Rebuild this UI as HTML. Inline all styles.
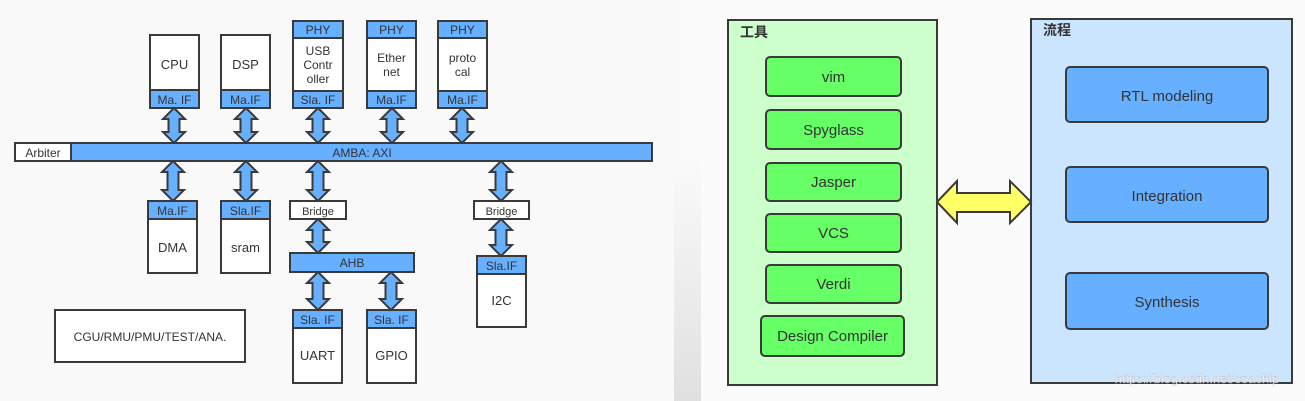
<!DOCTYPE html>
<html><head><meta charset="utf-8"><style>
html,body{margin:0;padding:0;background:#f9f9f9;}
svg{display:block}
text{font-family:"Liberation Sans","Noto Sans CJK SC",sans-serif;fill:#333;}
</style></head><body>
<svg width="1305" height="401" viewBox="0 0 1305 401" xmlns="http://www.w3.org/2000/svg">
<defs>
<linearGradient id="g" x1="0" y1="0" x2="0" y2="1">
<stop offset="0" stop-color="#fafafa"/><stop offset="0.4" stop-color="#fafafa"/><stop offset="1" stop-color="#e0e0e0"/></linearGradient>
</defs>
<rect x="0" y="0" width="1305" height="401" fill="#f9f9f9"/>
<rect x="674" y="0" width="27" height="401" fill="url(#g)"/>
<rect x="701" y="0" width="604" height="401" fill="#fbfbfb"/>

<g stroke="#3a3a3a" stroke-width="2">
<rect x="150" y="35" width="49" height="73" fill="#fff"/><rect x="150" y="90" width="49" height="18" fill="#66b0ff"/>
<rect x="221" y="35" width="49" height="73" fill="#fff"/><rect x="221" y="90" width="49" height="18" fill="#66b0ff"/>
<rect x="293" y="21" width="50" height="87" fill="#fff"/><rect x="293" y="21" width="50" height="17" fill="#66b0ff"/><rect x="293" y="91" width="50" height="17" fill="#66b0ff"/>
<rect x="367" y="21" width="49" height="87" fill="#fff"/><rect x="367" y="21" width="49" height="17" fill="#66b0ff"/><rect x="367" y="91" width="49" height="17" fill="#66b0ff"/>
<rect x="438" y="21" width="49" height="87" fill="#fff"/><rect x="438" y="21" width="49" height="17" fill="#66b0ff"/><rect x="438" y="91" width="49" height="17" fill="#66b0ff"/>
<rect x="15" y="143" width="56" height="18" fill="#fff"/>
<rect x="71" y="143" width="581" height="18" fill="#66b0ff"/>
<rect x="148" y="201" width="49" height="72" fill="#fff"/><rect x="148" y="201" width="49" height="18" fill="#66b0ff"/>
<rect x="221" y="201" width="49" height="72" fill="#fff"/><rect x="221" y="201" width="49" height="18" fill="#66b0ff"/>
<rect x="290" y="201" width="56" height="18" fill="#fff"/>
<rect x="474" y="201" width="55" height="18" fill="#fff"/>
<rect x="290" y="253" width="124" height="19" fill="#66b0ff"/>
<rect x="477" y="256" width="49" height="71" fill="#fff"/><rect x="477" y="256" width="49" height="18" fill="#66b0ff"/>
<rect x="293" y="310" width="49" height="73" fill="#fff"/><rect x="293" y="310" width="49" height="18" fill="#66b0ff"/>
<rect x="367" y="310" width="49" height="73" fill="#fff"/><rect x="367" y="310" width="49" height="18" fill="#66b0ff"/>
<rect x="55" y="310" width="190" height="52" fill="#fff"/>
</g>

<g fill="#66b0ff" stroke="#3a3a3a" stroke-width="2">
<path d="M174 108 L185 119 L179.5 119 L179.5 132 L185 132 L174 143 L163 132 L168.5 132 L168.5 119 L163 119 Z"/>
<path d="M246 108 L257 119 L251.5 119 L251.5 132 L257 132 L246 143 L235 132 L240.5 132 L240.5 119 L235 119 Z"/>
<path d="M318 108 L329 119 L323.5 119 L323.5 132 L329 132 L318 143 L307 132 L312.5 132 L312.5 119 L307 119 Z"/>
<path d="M392 108 L403 119 L397.5 119 L397.5 132 L403 132 L392 143 L381 132 L386.5 132 L386.5 119 L381 119 Z"/>
<path d="M462 108 L473 119 L467.5 119 L467.5 132 L473 132 L462 143 L451 132 L456.5 132 L456.5 119 L451 119 Z"/>
<path d="M173 161 L184 172 L178.5 172 L178.5 190 L184 190 L173 201 L162 190 L167.5 190 L167.5 172 L162 172 Z"/>
<path d="M246 161 L257 172 L251.5 172 L251.5 190 L257 190 L246 201 L235 190 L240.5 190 L240.5 172 L235 172 Z"/>
<path d="M318 161 L329 172 L323.5 172 L323.5 190 L329 190 L318 201 L307 190 L312.5 190 L312.5 172 L307 172 Z"/>
<path d="M501 161 L512 172 L506.5 172 L506.5 190 L512 190 L501 201 L490 190 L495.5 190 L495.5 172 L490 172 Z"/>
<path d="M318 219 L329 230 L323.5 230 L323.5 242 L329 242 L318 253 L307 242 L312.5 242 L312.5 230 L307 230 Z"/>
<path d="M501 219 L512 230 L506.5 230 L506.5 245 L512 245 L501 256 L490 245 L495.5 245 L495.5 230 L490 230 Z"/>
<path d="M318 272 L329 283 L323.5 283 L323.5 299 L329 299 L318 310 L307 299 L312.5 299 L312.5 283 L307 283 Z"/>
<path d="M391 272 L402 283 L396.5 283 L396.5 299 L402 299 L391 310 L380 299 L385.5 299 L385.5 283 L380 283 Z"/>
</g>

<g font-size="12" text-anchor="middle">
<text x="174.5" y="69" font-size="13">CPU</text><text x="174.5" y="104">Ma. IF</text>
<text x="245.5" y="69" font-size="13">DSP</text><text x="245.5" y="104">Ma.IF</text>
<text x="318" y="34">PHY</text><text x="318" y="55">USB</text><text x="318" y="69">Contr</text><text x="318" y="83">oller</text><text x="318" y="104">Sla. IF</text>
<text x="391.5" y="62">Ether</text><text x="391.5" y="34">PHY</text><text x="391.5" y="76">net</text><text x="391.5" y="104">Ma.IF</text>
<text x="462.5" y="34">PHY</text><text x="462.5" y="62">proto</text><text x="462.5" y="76">cal</text><text x="462.5" y="104">Ma.IF</text>
<text x="43" y="157">Arbiter</text>
<text x="362" y="157">AMBA: AXI</text>
<text x="172.5" y="215">Ma.IF</text><text x="172.5" y="252" font-size="13">DMA</text>
<text x="245.5" y="215">Sla.IF</text><text x="245.5" y="252" font-size="13">sram</text>
<text x="318" y="215" font-size="11">Bridge</text>
<text x="501.5" y="215" font-size="11">Bridge</text>
<text x="352" y="267">AHB</text>
<text x="501.5" y="270">Sla.IF</text><text x="501.5" y="305" font-size="13">I2C</text>
<text x="317.5" y="324">Sla. IF</text><text x="317.5" y="360" font-size="13">UART</text>
<text x="391.5" y="324">Sla. IF</text><text x="391.5" y="360" font-size="13">GPIO</text>
<text x="150" y="341">CGU/RMU/PMU/TEST/ANA.</text>
</g>

<g stroke="#3a3a3a" stroke-width="2">
<rect x="728" y="20" width="209" height="365" fill="#ccffcc"/>
<rect x="1031" y="19" width="261" height="364" fill="#cce5ff"/>
<g fill="#66ff66">
<rect x="766" y="57" width="135" height="39" rx="4"/>
<rect x="766" y="110" width="135" height="39" rx="4"/>
<rect x="766" y="163" width="135" height="38" rx="4"/>
<rect x="766" y="214" width="135" height="38" rx="4"/>
<rect x="766" y="265" width="135" height="38" rx="4"/>
<rect x="761" y="316" width="143" height="40" rx="4"/>
</g>
<g fill="#66b0ff">
<rect x="1066" y="67" width="202" height="55" rx="4"/>
<rect x="1066" y="167" width="202" height="55" rx="4"/>
<rect x="1066" y="273" width="202" height="56" rx="4"/>
</g>
<path d="M937 202 L957 181 L957 193 L1010 193 L1010 181 L1031 202 L1010 223 L1010 212 L957 212 L957 223 Z" fill="#ffff66"/>
</g>
<g font-size="15" text-anchor="middle">
<text x="740" y="37" text-anchor="start" font-size="14" font-weight="bold">工具</text>
<text x="1043" y="35" text-anchor="start" font-size="14" font-weight="bold">流程</text>
<text x="833.5" y="82">vim</text>
<text x="833.5" y="135">Spyglass</text>
<text x="833.5" y="187">Jasper</text>
<text x="833.5" y="238">VCS</text>
<text x="833.5" y="289">Verdi</text>
<text x="832.5" y="341">Design Compiler</text>
<text x="1167" y="101">RTL modeling</text>
<text x="1167" y="201">Integration</text>
<text x="1167" y="307">Synthesis</text>
</g>
<text x="1197" y="383" font-size="13" text-anchor="middle" style="fill:#fff;opacity:0.85" stroke="#bbb" stroke-width="0.4">https://blog.csdn.net/coachip</text>
</svg>
</body></html>
